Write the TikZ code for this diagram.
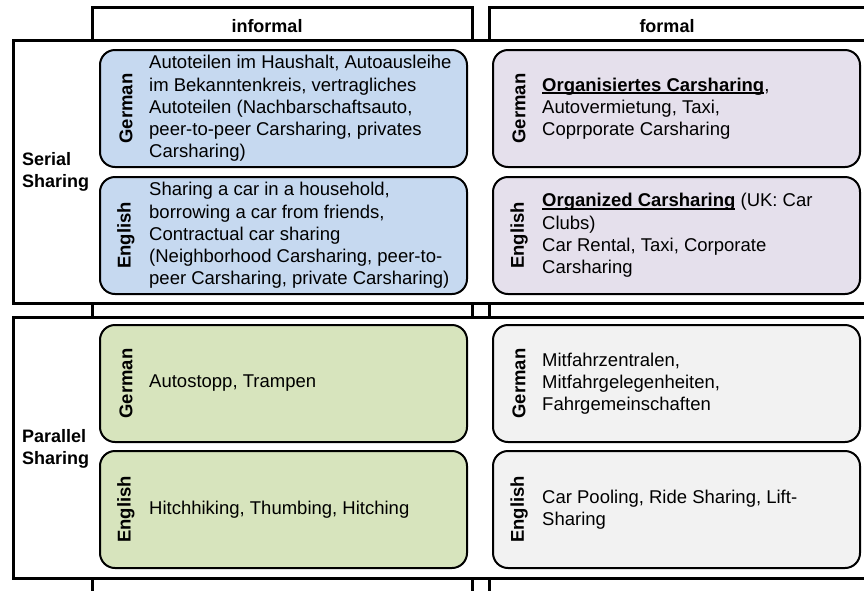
\documentclass[tikz,border=0pt]{standalone}
\usepackage{fontspec}
\setmainfont{Liberation Sans}
\usetikzlibrary{calc}

% bold text with a heavy underline
\newcommand{\ulword}[1]{\leavevmode\setbox0=\hbox{\bfseries #1}\rlap{\rule[-2.6pt]{\wd0}{1.5pt}}\box0\relax}

\definecolor{cellblue}{HTML}{C6D9F0}
\definecolor{celllilac}{HTML}{E5E0EC}
\definecolor{cellgreen}{HTML}{D7E4BD}
\definecolor{cellgrey}{HTML}{F2F2F2}

\tikzset{
  frameline/.style={line width=3pt, draw=black},
  colframe/.style={frameline},
  rowframe/.style={frameline, fill=white},
  cell/.style={draw=black, line width=2pt, rounded corners=15pt,
    minimum width=367pt, minimum height=117pt, inner sep=0pt},
  basefont/.style={font=\fontsize{18.5}{22.2}\selectfont},
  celltext/.style={basefont, anchor=west, align=left, inner sep=0pt},
  langlabel/.style={basefont, rotate=90, inner sep=0pt, font=\fontsize{18.5}{22.2}\selectfont\bfseries},
  headlabel/.style={inner sep=0pt, font=\fontsize{18}{21.6}\selectfont\bfseries},
  rowlabel/.style={anchor=west, align=left, inner sep=0pt, font=\fontsize{18}{22.2}\selectfont\bfseries},
}

\begin{document}
\begin{tikzpicture}[x=1pt, y=-1pt]
\useasboundingbox (0,0) rectangle (864,590);

% column frames (informal / formal), open towards the bottom and right
\draw[colframe] (92,7) rectangle (472,620);
\draw[colframe] (489,7) rectangle (900,620);

% row frames (serial / parallel sharing)
\draw[rowframe] (13,40) rectangle (900,303);
\draw[rowframe] (13,317) rectangle (900,578);

% column headings
\node[headlabel] (hinf) at (267,26) {informal};
\node[headlabel] (hfor) at (667,26) {formal};

% row headings
\node[rowlabel] (serial) at (22,172) {Serial\\Sharing};
\node[rowlabel] (parallel) at (22,449) {Parallel\\Sharing};

% cells
\node[cell, fill=cellblue]  (sig) at (283.5,108.5) {};
\node[cell, fill=cellblue]  (sie) at (283.5,235.5) {};
\node[cell, fill=celllilac] (sfg) at (676.5,108.5) {};
\node[cell, fill=celllilac] (sfe) at (676.5,235.5) {};
\node[cell, fill=cellgreen] (pig) at (283.5,383.5) {};
\node[cell, fill=cellgreen] (pie) at (283.5,509.5) {};
\node[cell, fill=cellgrey]  (pfg) at (676.5,383.5) {};
\node[cell, fill=cellgrey]  (pfe) at (676.5,509.5) {};

% language labels
\foreach \c/\l in {sig/German, sie/English, sfg/German, sfe/English,
                   pig/German, pie/English, pfg/German, pfe/English}
  \node[langlabel] (\c-lang) at ($(\c.west)+(27,0)$) {\l};

% cell contents
\node[celltext] (sig-t) at ($(sig.west)+(50,0)$)
  {Autoteilen im Haushalt, Autoausleihe\\im Bekanntenkreis, vertragliches\\Autoteilen (Nachbarschaftsauto,\\peer-to-peer Carsharing, privates\\Carsharing)};
\node[celltext] (sie-t) at ($(sie.west)+(50,0)$)
  {Sharing a car in a household,\\borrowing a car from friends,\\Contractual car sharing\\(Neighborhood Carsharing, peer-to-\\peer Carsharing, private Carsharing)};
\node[celltext] (sfg-t) at ($(sfg.west)+(50,0)$)
  {\ulword{Organisiertes Carsharing},\\Autovermietung, Taxi,\\Coprporate Carsharing};
\node[celltext] (sfe-t) at ($(sfe.west)+(50,0)$)
  {\ulword{Organized Carsharing} (UK: Car\\Clubs)\\Car Rental, Taxi, Corporate\\Carsharing};
\node[celltext] (pig-t) at ($(pig.west)+(50,0)$) {Autostopp, Trampen};
\node[celltext] (pie-t) at ($(pie.west)+(50,0)$) {Hitchhiking, Thumbing, Hitching};
\node[celltext] (pfg-t) at ($(pfg.west)+(50,0)$)
  {Mitfahrzentralen,\\Mitfahrgelegenheiten,\\Fahrgemeinschaften};
\node[celltext] (pfe-t) at ($(pfe.west)+(50,0)$)
  {Car Pooling, Ride Sharing, Lift-\\Sharing};
\end{tikzpicture}
\end{document}
